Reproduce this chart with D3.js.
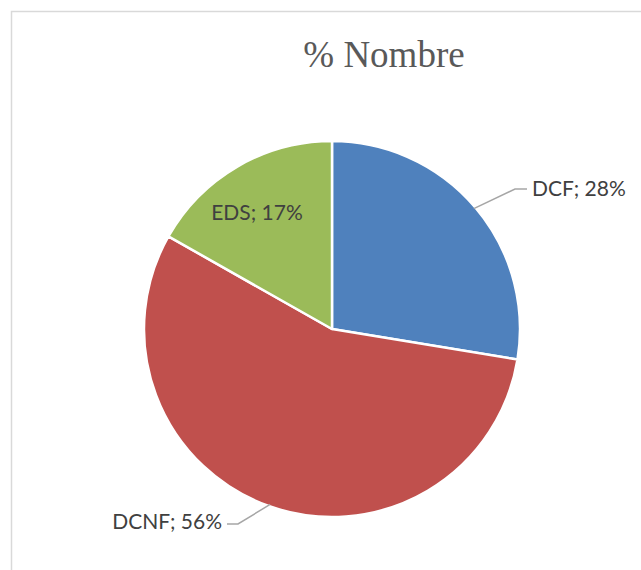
<html>
  <head>
	<meta charset="utf-8">
	<title>% Nombre</title>
	<script src="https://d3js.org/d3.v7.min.js"></script>
	<style>
	  body { margin: 0; background: #fff; }
	</style>
  </head>
  <body>

  <svg width="641" height="570"></svg>

	<script type="text/javascript">

    // donnees
    var categories = ["DCF", "DCNF", "EDS"];
    var valeurs = [27.6, 55.6, 16.8];
    var couleurs = ["#4F81BD", "#C0504D", "#9BBB59"];

    var svg = d3.select("svg");

    // cadre du graphique (bords gauche et haut visibles)
    svg.append("rect")
      .attr("x", 11.5).attr("y", 11.5)
      .attr("width", 760).attr("height", 600)
      .attr("fill", "none")
      .attr("stroke", "#D9D9D9")
      .attr("stroke-width", 1.5);

    // titre
    svg.append("text")
      .attr("x", 384).attr("y", 67)
      .attr("text-anchor", "middle")
      .attr("font-family", "Liberation Serif, Times New Roman, serif")
      .attr("font-size", 37)
      .attr("fill", "#595959")
      .text("% Nombre");

    var cx = 332, cy = 329, rayon = 188;

    var pie = d3.pie().sort(null).value(d => d);
    var arcs = pie(valeurs);
    var arc = d3.arc().innerRadius(0).outerRadius(rayon);

    var g = svg.append("g")
      .attr("transform", "translate(" + cx + "," + cy + ")");

    g.selectAll("path")
      .data(arcs)
      .enter()
      .append("path")
      .attr("d", arc)
      .attr("fill", (d, i) => couleurs[i])
      .attr("stroke", "#fff")
      .attr("stroke-width", 2.5)
      .attr("stroke-linejoin", "round");

    var total = d3.sum(valeurs);
    function etiquette(i) {
      return categories[i] + "; " + Math.round(valeurs[i] / total * 100) + "%";
    }

    // point au bord du camembert, au milieu de chaque part
    var arcBord = d3.arc().innerRadius(rayon - 2).outerRadius(rayon - 2);
    var police = "Lato, Carlito, Calibri, sans-serif";

    // DCF
    var pDcf = arcBord.centroid(arcs[0]);
    g.append("polyline")
      .attr("points", [pDcf, [183, -140], [195, -140]].map(p => p.join(",")).join(" "))
      .attr("fill", "none").attr("stroke", "#A6A6A6").attr("stroke-width", 1.5);
    g.append("text")
      .attr("x", 200).attr("y", -140)
      .attr("dy", "0.35em")
      .attr("font-family", police).attr("font-size", 21)
      .attr("fill", "#404040")
      .text(etiquette(0));

    // DCNF
    var pDcnf = arcBord.centroid(arcs[1]);
    g.append("polyline")
      .attr("points", [pDcnf, [-94, 195], [-105, 195]].map(p => p.join(",")).join(" "))
      .attr("fill", "none").attr("stroke", "#A6A6A6").attr("stroke-width", 1.5);
    g.append("text")
      .attr("x", -110).attr("y", 193)
      .attr("dy", "0.35em")
      .attr("text-anchor", "end")
      .attr("font-family", police).attr("font-size", 21)
      .attr("fill", "#404040")
      .text(etiquette(1));

    // EDS (etiquette interieure)
    g.append("text")
      .attr("x", -75).attr("y", -116)
      .attr("dy", "0.35em")
      .attr("text-anchor", "middle")
      .attr("font-family", police).attr("font-size", 21)
      .attr("fill", "#404040")
      .text(etiquette(2));

	</script>
  </body>

</html>
